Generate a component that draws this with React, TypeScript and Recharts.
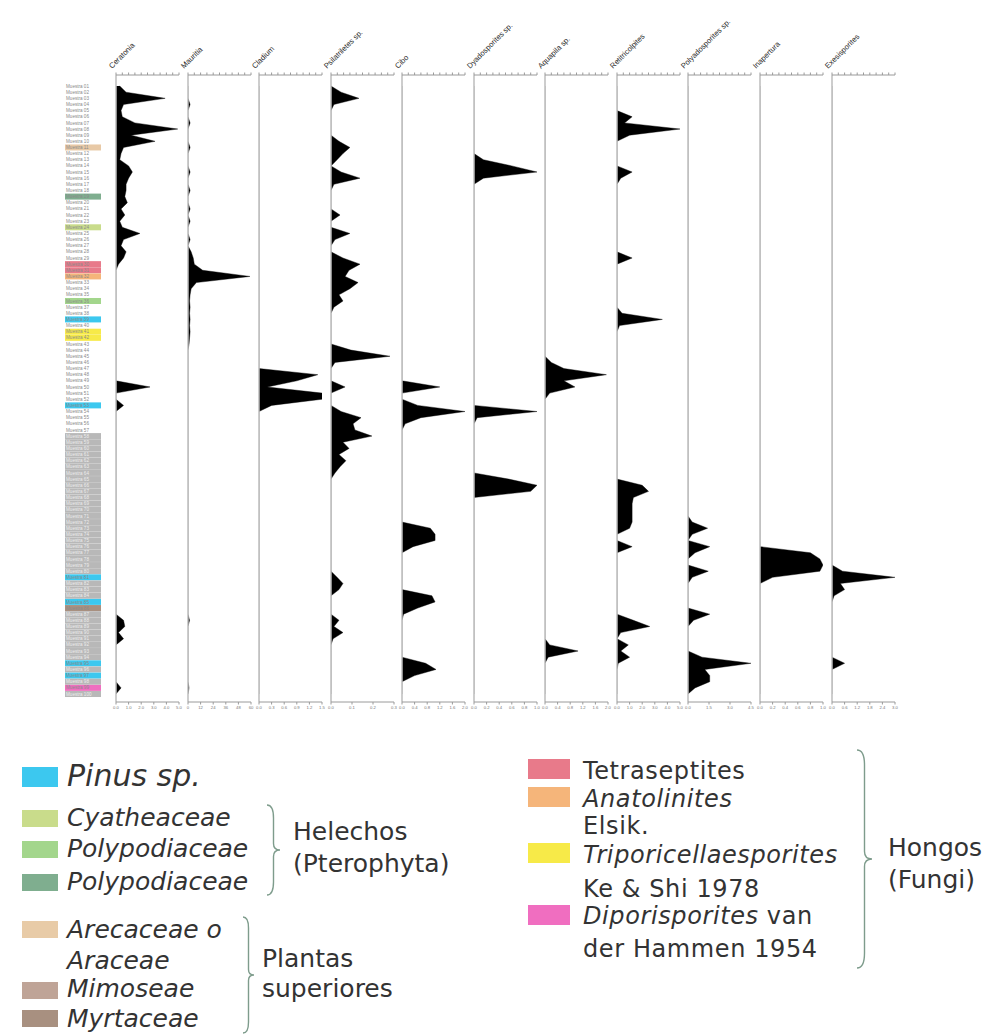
import React from 'react';
import { ComposedChart, Area, XAxis, YAxis, ReferenceLine } from 'recharts';

// sample codes, top (youngest) to bottom
const sampleLabels: string[] = [
  'Muestra 01', 'Muestra 02', 'Muestra 03', 'Muestra 04', 'Muestra 05', 'Muestra 06', 'Muestra 07', 'Muestra 08', 'Muestra 09', 'Muestra 10',
  'Muestra 11', 'Muestra 12', 'Muestra 13', 'Muestra 14', 'Muestra 15', 'Muestra 16', 'Muestra 17', 'Muestra 18', 'Muestra 19', 'Muestra 20',
  'Muestra 21', 'Muestra 22', 'Muestra 23', 'Muestra 24', 'Muestra 25', 'Muestra 26', 'Muestra 27', 'Muestra 28', 'Muestra 29', 'Muestra 30',
  'Muestra 31', 'Muestra 32', 'Muestra 33', 'Muestra 34', 'Muestra 35', 'Muestra 36', 'Muestra 37', 'Muestra 38', 'Muestra 39', 'Muestra 40',
  'Muestra 41', 'Muestra 42', 'Muestra 43', 'Muestra 44', 'Muestra 45', 'Muestra 46', 'Muestra 47', 'Muestra 48', 'Muestra 49', 'Muestra 50',
  'Muestra 51', 'Muestra 52', 'Muestra 53', 'Muestra 54', 'Muestra 55', 'Muestra 56', 'Muestra 57', 'Muestra 58', 'Muestra 59', 'Muestra 60',
  'Muestra 61', 'Muestra 62', 'Muestra 63', 'Muestra 64', 'Muestra 65', 'Muestra 66', 'Muestra 67', 'Muestra 68', 'Muestra 69', 'Muestra 70',
  'Muestra 71', 'Muestra 72', 'Muestra 73', 'Muestra 74', 'Muestra 75', 'Muestra 76', 'Muestra 77', 'Muestra 78', 'Muestra 79', 'Muestra 80',
  'Muestra 81', 'Muestra 82', 'Muestra 83', 'Muestra 84', 'Muestra 85', 'Muestra 86', 'Muestra 87', 'Muestra 88', 'Muestra 89', 'Muestra 90',
  'Muestra 91', 'Muestra 92', 'Muestra 93', 'Muestra 94', 'Muestra 95', 'Muestra 96', 'Muestra 97', 'Muestra 98', 'Muestra 99', 'Muestra 100',
];

// highlighted sample rows [sample index, colour]
const rowColors: [number, string][] = [
  [10, '#e8c9a6'], [18, '#7fae8f'], [23, '#c9dc8b'], [29, '#e87a8a'], [30, '#e87a8a'],
  [31, '#f5b57a'], [35, '#a3d68c'], [38, '#3cc8ef'], [40, '#f7ea48'], [41, '#f7ea48'],
  [52, '#3cc8ef'], [80, '#3cc8ef'], [84, '#3cc8ef'], [85, '#a89080'], [94, '#3cc8ef'],
  [96, '#3cc8ef'], [98, '#f06ec0'],
];
const greyFrom = 57;

// counts per sample, [sample index, value]; samples not listed are 0
const ceratonia: [number, number][] = [
  [0, 0.3], [1, 0.8], [2, 3.9], [3, 0.6], [4, 0.4], [5, 0.5], [6, 1.5], [7, 4.9], [8, 1.2], [9, 3.1],
  [10, 0.6], [11, 0.4], [12, 0.3], [13, 1.0], [14, 1.3], [15, 1.0], [16, 0.8], [17, 0.8], [18, 0.7], [19, 0.9],
  [20, 0.4], [21, 0.7], [22, 0.3], [23, 0.5], [24, 1.9], [25, 0.6], [26, 0.4], [27, 0.8], [28, 0.6], [29, 0.2],
  [49, 2.7], [52, 0.6], [87, 0.6], [88, 0.7], [89, 0.2], [90, 0.6], [98, 0.4],
];
const mauritia: [number, number][] = [
  [3, 2], [6, 2], [10, 2], [14, 2], [17, 2], [20, 2], [22, 2], [25, 2], [27, 3], [28, 5], [29, 6], [30, 14],
  [31, 59], [32, 8], [33, 3], [34, 2], [35, 1.5], [36, 2], [37, 1.5], [38, 2], [39, 1.5], [40, 2], [41, 1.5],
  [42, 1], [87, 1.5], [98, 1],
];
const cladium: [number, number][] = [
  [47, 1.4], [48, 0.9], [49, 0.2], [50, 1.5], [51, 1.5], [52, 0.3],
];
const psilatriletes: [number, number][] = [
  [1, 0.048], [2, 0.133], [3, 0.014], [9, 0.038], [10, 0.09], [11, 0.057], [12, 0.029], [14, 0.048], [15, 0.138],
  [16, 0.014], [21, 0.043], [24, 0.09], [25, 0.019], [28, 0.057], [29, 0.138], [30, 0.086], [31, 0.067],
  [32, 0.129], [33, 0.09], [34, 0.038], [35, 0.057], [36, 0.014], [43, 0.095], [44, 0.281], [45, 0.019],
  [49, 0.067], [53, 0.048], [54, 0.143], [55, 0.105], [56, 0.114], [57, 0.195], [58, 0.057], [59, 0.086],
  [60, 0.038], [61, 0.071], [62, 0.043], [63, 0.019], [80, 0.029], [81, 0.057], [82, 0.038], [87, 0.038],
  [88, 0.014], [89, 0.057], [90, 0.01],
];
const cibo: [number, number][] = [
  [49, 1.2], [52, 0.5], [53, 2.0], [54, 0.6], [55, 0.1], [72, 0.9], [73, 1.05], [74, 1.05], [75, 0.35],
  [83, 0.95], [84, 1.05], [85, 0.5], [86, 0.05], [94, 0.75], [95, 1.08], [96, 0.4],
];
const dyadosporites: [number, number][] = [
  [12, 0.15], [13, 0.6], [14, 1.0], [15, 0.15], [53, 1.0], [54, 0.05], [64, 0.55], [65, 1.0], [66, 0.9],
];
const aquapila: [number, number][] = [
  [45, 0.2], [46, 0.6], [47, 1.95], [48, 0.6], [49, 0.95], [50, 0.15], [91, 0.15], [92, 1.05], [93, 0.1],
];
const retitricolpites: [number, number][] = [
  [5, 1.2], [6, 0.6], [7, 5.0], [8, 1.0], [14, 1.2], [15, 0.3], [28, 1.2], [37, 0.4], [38, 3.6], [39, 0.2],
  [65, 2.0], [66, 2.5], [67, 1.3], [68, 1.2], [69, 1.2], [70, 1.2], [71, 1.2], [72, 1.0], [75, 1.2],
  [87, 1.3], [88, 2.6], [89, 0.3], [91, 0.9], [92, 0.3], [93, 1.0], [94, 0.1],
];
const polyadosporites: [number, number][] = [
  [71, 0.3], [72, 1.4], [73, 0.3], [75, 1.55], [76, 0.5], [79, 1.45], [80, 0.3], [86, 1.55], [87, 0.4],
  [93, 1.0], [94, 4.5], [95, 1.2], [96, 1.55], [97, 1.55], [98, 0.5],
];
const inapertura: [number, number][] = [
  [76, 0.8], [77, 0.95], [78, 1.0], [79, 0.95], [80, 0.2],
];
const exesisporites: [number, number][] = [
  [79, 0.5], [80, 3.0], [81, 0.4], [82, 0.6], [83, 0.1], [94, 0.6],
];

// bottom scale ticks for each panel
const ticksCeratonia = [0, 1, 2, 3, 4, 5];
const ticksMauritia = [0, 12, 24, 36, 48, 60];
const ticksCladium = [0, 0.3, 0.6, 0.9, 1.2, 1.5];
const ticksPsilatriletes = [0, 0.1, 0.2, 0.3];
const ticksCibo = [0, 0.4, 0.8, 1.2, 1.6, 2.0];
const ticksDyado = [0, 0.2, 0.4, 0.6, 0.8, 1.0];
const ticksAquapila = [0, 0.4, 0.8, 1.2, 1.6, 2.0];
const ticksReti = [0, 1, 2, 3, 4, 5];
const ticksPolyado = [0, 1.5, 3, 4.5];
const ticksInapertura = [0, 0.2, 0.4, 0.6, 0.8, 1.0];
const ticksExesi = [0, 0.6, 1.2, 1.8, 2.4, 3.0];

const panels = [
  { key: 'ceratonia', name: 'Ceratonia', pts: ceratonia, ticks: ticksCeratonia, digits: 1 },
  { key: 'mauritia', name: 'Mauritia', pts: mauritia, ticks: ticksMauritia, digits: 0 },
  { key: 'cladium', name: 'Cladium', pts: cladium, ticks: ticksCladium, digits: 1 },
  { key: 'psilatriletes', name: 'Psilatriletes sp.', pts: psilatriletes, ticks: ticksPsilatriletes, digits: 1 },
  { key: 'cibo', name: 'Cibo', pts: cibo, ticks: ticksCibo, digits: 1 },
  { key: 'dyadosporites', name: 'Dyadosporites sp.', pts: dyadosporites, ticks: ticksDyado, digits: 1 },
  { key: 'aquapila', name: 'Aquapila sp.', pts: aquapila, ticks: ticksAquapila, digits: 1 },
  { key: 'retitricolpites', name: 'Retitricolpites', pts: retitricolpites, ticks: ticksReti, digits: 1 },
  { key: 'polyadosporites', name: 'Polyadosporites sp.', pts: polyadosporites, ticks: ticksPolyado, digits: 1 },
  { key: 'inapertura', name: 'Inapertura', pts: inapertura, ticks: ticksInapertura, digits: 1 },
  { key: 'exesisporites', name: 'Exesisporites', pts: exesisporites, ticks: ticksExesi, digits: 1 },
];

const data = sampleLabels.map((label, i) => {
  const row: Record<string, number | string> = { depth: i, label };
  panels.forEach(p => {
    const hit = p.pts.find(([idx]) => idx === i);
    row[p.key] = hit ? hit[1] : 0;
  });
  return row;
});

const PANEL_LEFT = [116, 188, 259, 331, 402, 474, 545, 617, 688, 760, 832];
const PANEL_W = 63;
const CHART_H = 730;
const Y_DOMAIN: [number, number] = [-1.8, 100.3];
const LABEL_W = 56;
const SIDE = 12;

const axisFont = 'Liberation Sans, Arial, sans-serif';

const SampleTick = (props: any) => {
  const { x, y, payload } = props;
  const i = payload.value as number;
  const hl = rowColors.find(([idx]) => idx === i);
  const grey = i >= greyFrom;
  const bg = hl ? hl[1] : grey ? '#b8b8b8' : null;
  return (
    <g>
      {bg && <rect x={x - 51} y={y - 3} width={36} height={6} fill={bg} />}
      <text x={x - 50} y={y + 1.6} fontSize={4.6} fontFamily={axisFont} fill={grey && !hl ? '#ededed' : '#8a8a8a'}>
        {sampleLabels[i]}
      </text>
    </g>
  );
};

const minorTicks = (max: number) => Array.from({ length: 11 }, (_, k) => (max * k) / 10);

const Panel = ({ idx }: { idx: number }) => {
  const p = panels[idx];
  const first = idx === 0;
  const max = p.ticks[p.ticks.length - 1];
  const left = first ? PANEL_LEFT[idx] - LABEL_W : PANEL_LEFT[idx] - SIDE;
  const width = (first ? LABEL_W : SIDE) + PANEL_W + SIDE;
  return (
    <div style={{ position: 'absolute', left, top: 0 }}>
      <ComposedChart
        width={width}
        height={CHART_H}
        data={data}
        layout="vertical"
        margin={{ top: 55, bottom: 8, left: first ? 0 : SIDE, right: SIDE }}
      >
        <XAxis
          xAxisId="top"
          orientation="top"
          type="number"
          domain={[0, max]}
          allowDataOverflow
          ticks={minorTicks(max)}
          interval={0}
          tickFormatter={() => ''}
          tickSize={2.5}
          height={20}
          stroke="#9a9a9a"
        />
        <XAxis
          xAxisId="bottom"
          orientation="bottom"
          type="number"
          domain={[0, max]}
          allowDataOverflow
          ticks={p.ticks}
          interval={0}
          tickFormatter={(v: number) => v.toFixed(p.digits)}
          tick={{ fontSize: 4.2, fill: '#777', fontFamily: axisFont }}
          tickSize={2.5}
          tickMargin={2}
          height={20}
          stroke="#9a9a9a"
        />
        <YAxis
          type="number"
          dataKey="depth"
          domain={Y_DOMAIN}
          allowDataOverflow
          hide={!first}
          width={first ? LABEL_W : 0}
          ticks={sampleLabels.map((_, i) => i)}
          interval={0}
          tick={<SampleTick />}
          tickSize={0}
          tickMargin={0}
          axisLine={false}
          tickLine={false}
        />
        <ReferenceLine xAxisId="bottom" x={0} stroke="#bdbdbd" strokeWidth={1.5} />
        <Area
          xAxisId="bottom"
          type="linear"
          dataKey={p.key}
          fill="#000"
          fillOpacity={1}
          stroke="#000"
          strokeWidth={0.4}
          dot={false}
          activeDot={false}
          isAnimationActive={false}
        />
      </ComposedChart>
    </div>
  );
};

const brace = (x: number, y0: number, y1: number, w: number) => {
  const m = (y0 + y1) / 2;
  const h = x + w / 2;
  return `M ${x} ${y0} Q ${h} ${y0} ${h} ${y0 + w} L ${h} ${m - w / 2} Q ${h} ${m} ${x + w} ${m} Q ${h} ${m} ${h} ${m + w / 2} L ${h} ${y1 - w} Q ${h} ${y1} ${x} ${y1}`;
};

const legendFont = 'DejaVu Sans, Verdana, sans-serif';

// legend swatches: [label, colour, top of swatch, baseline, italic]
const legendLeft: [string, string | null, number, number, boolean][] = [
  ['Cyatheaceae', '#c9dc8b', 810, 826, true],
  ['Polypodiaceae', '#a3d68c', 841, 857, true],
  ['Polypodiaceae', '#7fae8f', 874, 890, true],
  ['Arecaceae o', '#e8cba7', 921, 938, true],
  ['Araceae', null, 952, 969, true],
  ['Mimoseae', '#bfa497', 982, 997, true],
  ['Myrtaceae', '#a89080', 1010, 1027, true],
];

const Overlay = () => (
  <svg width={990} height={1034} style={{ position: 'absolute', left: 0, top: 0 }}>
    {panels.map((p, i) => (
      <text
        key={p.key}
        transform={`translate(${PANEL_LEFT[i] - 4},${69}) rotate(-45)`}
        fontSize={7.6}
        fontFamily={axisFont}
        fill="#2a2a2a"
      >
        {p.name}
      </text>
    ))}

    {/* left legend */}
    <rect x={22} y={767} width={36} height={20} fill="#3cc8ef" />
    <text x={67} y={786} fontSize={30} fontStyle="italic" fontFamily={legendFont} fill="#333">Pinus sp.</text>
    {legendLeft.map(([label, color, top, base, italic], i) => (
      <g key={i}>
        {color && <rect x={22} y={top} width={36} height={17} fill={color} />}
        <text x={67} y={base} fontSize={25} fontStyle={italic ? 'italic' : 'normal'} fontFamily={legendFont} fill="#333">
          {label}
        </text>
      </g>
    ))}
    <path d={brace(267, 805, 895, 13)} fill="none" stroke="#7e9c8c" strokeWidth={1.4} />
    <text x={293} y={840} fontSize={25} fontFamily={legendFont} fill="#333">Helechos</text>
    <text x={293} y={872} fontSize={25} fontFamily={legendFont} fill="#333">(Pterophyta)</text>
    <path d={brace(243, 917, 1033, 11)} fill="none" stroke="#7e9c8c" strokeWidth={1.4} />
    <text x={262} y={967} fontSize={25} fontFamily={legendFont} fill="#333">Plantas</text>
    <text x={262} y={997} fontSize={25} fontFamily={legendFont} fill="#333">superiores</text>

    {/* right legend */}
    <g fontSize={24} fontFamily={legendFont} fill="#333" letterSpacing={0.6}>
      <rect x={528} y={759} width={42} height={20} fill="#e87a8a" />
      <text x={583} y={779}>Tetraseptites</text>
      <rect x={528} y={787} width={42} height={20} fill="#f5b57a" />
      <text x={583} y={807} fontStyle="italic">Anatolinites</text>
      <text x={583} y={834}>Elsik.</text>
      <rect x={528} y={843} width={42} height={20} fill="#f7ea48" />
      <text x={583} y={863} fontStyle="italic">Triporicellaesporites</text>
      <text x={583} y={897}>Ke &amp; Shi 1978</text>
      <rect x={528} y={905} width={42} height={20} fill="#f06ec0" />
      <text x={583} y={924}>
        <tspan fontStyle="italic">Diporisporites</tspan> van
      </text>
      <text x={583} y={957}>der Hammen 1954</text>
    </g>
    <path d={brace(857, 750, 968, 15)} fill="none" stroke="#7e9c8c" strokeWidth={1.4} />
    <text x={888} y={856} fontSize={25} fontFamily={legendFont} fill="#333">Hongos</text>
    <text x={888} y={888} fontSize={25} fontFamily={legendFont} fill="#333">(Fungi)</text>
  </svg>
);

export default function App() {
  return (
    <div style={{ position: 'absolute', left: 0, top: 0, width: 990, height: 1034, background: '#fff', overflow: 'hidden' }}>
      <Overlay />
      {panels.map((p, i) => (
        <Panel key={p.key} idx={i} />
      ))}
    </div>
  );
}
